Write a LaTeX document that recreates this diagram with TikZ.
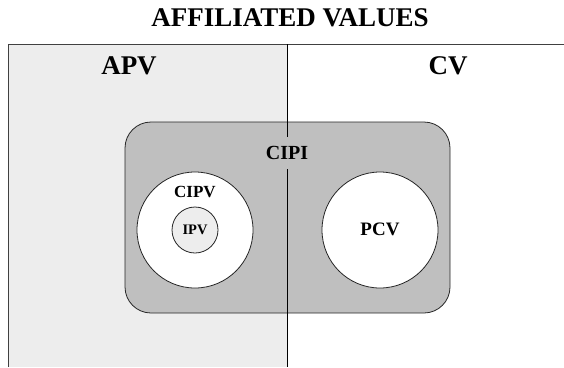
\documentclass[tikz,border=0pt]{standalone}
\usepackage{fontspec}
\setmainfont{Liberation Serif}
\begin{document}
\begin{tikzpicture}[x=1pt,y=-1pt,
  lbl/.style={font=\bfseries, inner sep=1pt},
  ring/.style={circle, draw=black!85, line width=0.8pt, fill=white, inner sep=0pt}]
\useasboundingbox (0,0) rectangle (564,367);
% panels
\fill[fill=black!7] (8,44) rectangle (287,367);
\draw[black!75, line width=1pt] (8,367) -- (8,44) -- (564,44);
% CIPI rounded box
\draw[fill=black!25, draw=black!85, line width=0.8pt, rounded corners=26pt] (125,122) rectangle (450,313);
% divider
\draw[black, line width=0.9pt] (287,44) -- (287,367);
% circles
\node[ring, minimum size=116pt] (cipv) at (195,230) {};
\node[ring, minimum size=116pt] (pcv) at (380,230) {};
\node[circle, draw=black!85, line width=0.8pt, fill=black!7, minimum size=46pt, inner sep=0pt] (ipv) at (195,230) {};
% labels
\node[lbl, font=\fontsize{27}{30}\selectfont\bfseries] (title) at (290,18) {AFFILIATED VALUES};
\node[lbl, font=\fontsize{27}{30}\selectfont\bfseries] (apv) at (129,66) {APV};
\node[lbl, font=\fontsize{27}{30}\selectfont\bfseries] (cv) at (448,66) {CV};
\node[lbl, font=\fontsize{20}{24}\selectfont\bfseries, fill=black!25, minimum height=32pt, inner xsep=3pt] (cipi) at (287,153) {CIPI};
\node[lbl, font=\fontsize{17}{20}\selectfont\bfseries] (cipvl) at (195,192) {CIPV};
\node[lbl, font=\fontsize{14.5}{17}\selectfont\bfseries] (ipvl) at (195,230) {IPV};
\node[lbl, font=\fontsize{19}{22}\selectfont\bfseries] (pcvl) at (380,229) {PCV};
\end{tikzpicture}
\end{document}
